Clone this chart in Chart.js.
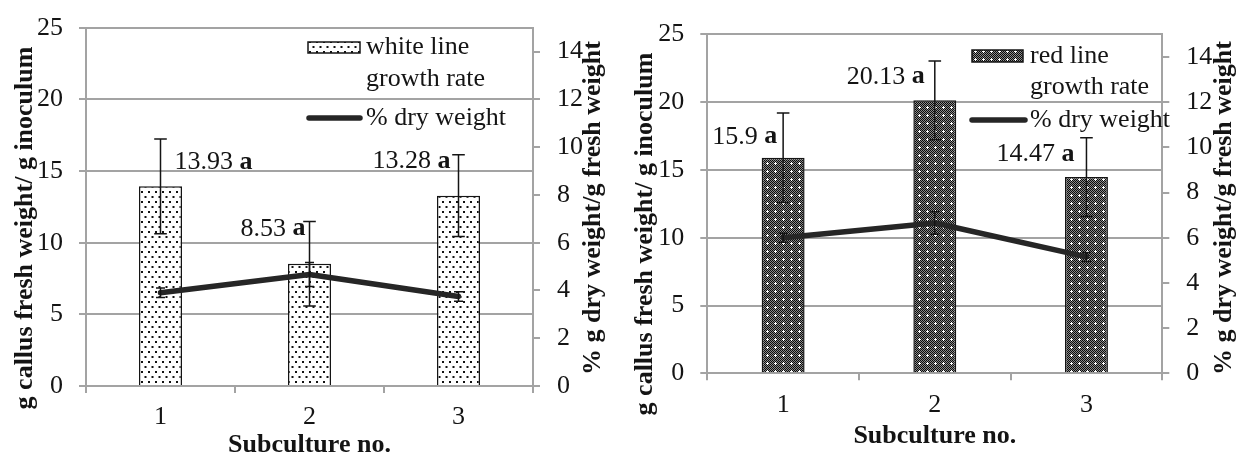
<!DOCTYPE html>
<html>
<head>
<meta charset="utf-8">
<script src="https://cdn.jsdelivr.net/npm/chart.js@4/dist/chart.umd.min.js"></script>
<style>
  html, body { margin: 0; padding: 0; background: #fff; }
  #wrap { position: relative; width: 1238px; height: 457px; overflow: hidden; }
  canvas { position: absolute; top: 0; }
  #cWhite { left: 0; }
  #cRed { left: 620px; }
</style>
</head>
<body>
<div id="wrap">
  <canvas id="cWhite" width="620" height="457"></canvas>
  <canvas id="cRed" width="618" height="457"></canvas>
</div>
<script>
// ---- data -------------------------------------------------------------
const subcultures = ['1', '2', '3'];
const growthTicks = [0, 5, 10, 15, 20, 25];
const dryTicks = [0, 2, 4, 6, 8, 10, 12, 14];
const dryAxisMax = 15;

const whiteGrowth = [13.93, 8.53, 13.28];
const whiteGrowthSd = [3.3, 2.95, 2.85];
const whiteDry = [3.9, 4.67, 3.75];
const whiteDrySd = [0.2, 0.5, 0.2];
const whiteLetters = ['a', 'a', 'a'];

const redGrowth = [15.9, 20.13, 14.47];
const redGrowthSd = [3.3, 2.9, 2.9];
const redDry = [6.0, 6.65, 5.15];
const redDrySd = [0.2, 0.5, 0.2];
const redLetters = ['a', 'a', 'a'];

const xTitle = 'Subculture no.';
const growthTitle = 'g callus fresh weight/ g inoculum';
const dryTitle = '% g dry weight/g fresh weight';
const dryLegend = '% dry weight';

// ---- style ------------------------------------------------------------
const serif = '"Liberation Serif", "Times New Roman", serif';
const ink = '#141414';
const lineInk = '#262626';
const gridGray = '#a3a3a3';
const FS = 26;

function dotPattern() {
  const c = document.createElement('canvas');
  c.width = 14; c.height = 10;
  const g = c.getContext('2d');
  g.fillStyle = '#fff'; g.fillRect(0, 0, 14, 10);
  g.fillStyle = '#111';
  [[1, 1], [8, 1], [4.5, 6], [11.5, 6]].forEach(([x, y]) => g.fillRect(x, y, 2, 2));
  return g.createPattern(c, 'repeat');
}

function checkPattern() {
  const c = document.createElement('canvas');
  c.width = 8; c.height = 8;
  const g = c.getContext('2d');
  for (let y = 0; y < 8; y++) {
    for (let x = 0; x < 8; x++) {
      g.fillStyle = (x + y) % 2 ? '#8a8a8a' : '#0a0a0a';
      g.fillRect(x, y, 1, 1);
    }
  }
  g.fillStyle = '#fff';
  g.fillRect(2, 3, 3, 1);
  g.fillRect(3, 2, 1, 3);
  return g.createPattern(c, 'repeat');
}

const panels = [
  {
    canvas: 'cWhite', width: 620,
    growth: whiteGrowth, growthSd: whiteGrowthSd,
    dry: whiteDry, drySd: whiteDrySd, letters: whiteLetters,
    legendName: ['white line', 'growth rate'], fill: dotPattern(),
    area: { left: 86, right: 533, top: 27.7, bottom: 386 },
    barPct: 0.289,
    valueLabels: [
      { dx: 14, dy: -24, align: 'left' },
      { dx: -4, dy: -35, align: 'right' },
      { dx: -8, dy: -34, align: 'right' }
    ],
    legend: { boxX: 308, boxY: 42, boxW: 52, boxH: 11, textX: 366, lineY: 118, lineX0: 309, lineX1: 360 },
    titles: { leftX: 25, leftY: 228, rightX: 593, rightY: 208, bottomY: 445 }
  },
  {
    canvas: 'cRed', width: 618,
    growth: redGrowth, growthSd: redGrowthSd,
    dry: redDry, drySd: redDrySd, letters: redLetters,
    legendName: ['red line', 'growth rate'], fill: checkPattern(),
    area: { left: 87.3, right: 542.3, top: 34.3, bottom: 373.3 },
    barPct: 0.283,
    valueLabels: [
      { dx: -6, dy: -21, align: 'right' },
      { dx: -10, dy: -23.6, align: 'right' },
      { dx: -12, dy: -23, align: 'right' }
    ],
    legend: { boxX: 352, boxY: 50, boxW: 51, boxH: 12, textX: 410, lineY: 120, lineX0: 352, lineX1: 405 },
    titles: { leftX: 25, leftY: 234, rightX: 604, rightY: 208, bottomY: 436.5 }
  }
];

// ---- drawing helpers --------------------------------------------------
function errorBar(ctx, x, yHi, yLo, half) {
  ctx.beginPath();
  ctx.moveTo(x, yHi); ctx.lineTo(x, yLo);
  ctx.moveTo(x - half, yHi); ctx.lineTo(x + half, yHi);
  ctx.moveTo(x - half, yLo); ctx.lineTo(x + half, yLo);
  ctx.stroke();
}

function valueLabel(ctx, value, letter, x, y, align) {
  const num = String(value) + ' ';
  ctx.font = `${FS}px ${serif}`;
  const w1 = ctx.measureText(num).width;
  ctx.font = `bold ${FS}px ${serif}`;
  const w2 = ctx.measureText(letter).width;
  const sx = align === 'left' ? x : x - w1 - w2;
  ctx.textAlign = 'left';
  ctx.textBaseline = 'middle';
  ctx.font = `${FS}px ${serif}`;
  ctx.fillText(num, sx, y);
  ctx.font = `bold ${FS}px ${serif}`;
  ctx.fillText(letter, sx + w1, y);
}

function rotatedText(ctx, text, x, y) {
  ctx.save();
  ctx.translate(x, y);
  ctx.rotate(-Math.PI / 2);
  ctx.textAlign = 'center';
  ctx.textBaseline = 'middle';
  ctx.fillText(text, 0, 0);
  ctx.restore();
}

function extrasPlugin(p) {
  return {
    id: 'panelExtras',
    afterDatasetsDraw(chart) {
      const ctx = chart.ctx;
      const { x, y, y1 } = chart.scales;
      ctx.save();
      ctx.strokeStyle = ink;
      ctx.lineWidth = 1.5;
      p.growth.forEach((v, i) => {
        const px = x.getPixelForValue(i);
        errorBar(ctx, px, y.getPixelForValue(v + p.growthSd[i]), y.getPixelForValue(v - p.growthSd[i]), 6.3);
      });
      p.dry.forEach((v, i) => {
        const px = x.getPixelForValue(i);
        errorBar(ctx, px, y1.getPixelForValue(v + p.drySd[i]), y1.getPixelForValue(v - p.drySd[i]), 4.5);
      });

      // value labels with significance letters
      ctx.fillStyle = ink;
      p.growth.forEach((v, i) => {
        const s = p.valueLabels[i];
        valueLabel(ctx, v, p.letters[i], x.getPixelForValue(i) + s.dx, y.getPixelForValue(v) + s.dy, s.align);
      });

      // legend
      const L = p.legend;
      ctx.fillStyle = p.fill;
      ctx.fillRect(L.boxX, L.boxY, L.boxW, L.boxH);
      ctx.strokeStyle = ink;
      ctx.lineWidth = 1.5;
      ctx.strokeRect(L.boxX, L.boxY, L.boxW, L.boxH);
      ctx.fillStyle = ink;
      ctx.font = `${FS}px ${serif}`;
      ctx.textAlign = 'left';
      ctx.textBaseline = 'middle';
      const lh = FS * 1.2;
      const firstY = L.boxY + L.boxH / 2;
      p.legendName.forEach((t, k) => ctx.fillText(t, L.textX, firstY + k * lh));
      ctx.strokeStyle = lineInk;
      ctx.lineWidth = 5.5;
      ctx.lineCap = 'round';
      ctx.beginPath();
      ctx.moveTo(L.lineX0, L.lineY); ctx.lineTo(L.lineX1, L.lineY);
      ctx.stroke();
      ctx.fillText(dryLegend, L.textX, L.lineY);

      // axis titles
      const T = p.titles;
      ctx.font = `bold ${FS}px ${serif}`;
      ctx.fillStyle = ink;
      rotatedText(ctx, growthTitle, T.leftX, T.leftY);
      rotatedText(ctx, dryTitle, T.rightX, T.rightY);
      ctx.textAlign = 'center';
      ctx.textBaseline = 'middle';
      ctx.fillText(xTitle, (chart.chartArea.left + chart.chartArea.right) / 2, T.bottomY);
      ctx.restore();
    }
  };
}

function zeroPadding(s) {
  s.paddingTop = 0; s.paddingBottom = 0; s.paddingLeft = 0; s.paddingRight = 0;
}

// ---- charts -----------------------------------------------------------
panels.forEach(p => {
  const tickFont = { family: serif, size: FS };
  new Chart(document.getElementById(p.canvas), {
    type: 'bar',
    data: {
      labels: subcultures,
      datasets: [
        {
          type: 'line',
          label: dryLegend,
          data: p.dry,
          yAxisID: 'y1',
          borderColor: lineInk,
          borderWidth: 5.5,
          borderCapStyle: 'round',
          borderJoinStyle: 'round',
          pointRadius: 0,
          tension: 0,
          order: 0
        },
        {
          type: 'bar',
          label: p.legendName.join(' '),
          data: p.growth,
          yAxisID: 'y',
          backgroundColor: p.fill,
          borderColor: ink,
          borderWidth: 1.5,
          categoryPercentage: 1,
          barPercentage: p.barPct,
          order: 1
        }
      ]
    },
    options: {
      responsive: false,
      animation: false,
      devicePixelRatio: 1,
      layout: { padding: { left: 0, right: 0, top: p.area.top, bottom: 0 } },
      plugins: { legend: { display: false }, tooltip: { enabled: false } },
      scales: {
        x: {
          type: 'category',
          offset: true,
          grid: { offset: true, drawOnChartArea: false, drawTicks: true, tickLength: 7, color: gridGray, lineWidth: 2 },
          border: { display: true, color: gridGray, width: 2 },
          ticks: { font: tickFont, color: ink, padding: 9, maxRotation: 0 },
          afterFit(s) { s.height = 457 - p.area.bottom; zeroPadding(s); }
        },
        y: {
          position: 'left',
          min: growthTicks[0],
          max: growthTicks[growthTicks.length - 1],
          ticks: { stepSize: growthTicks[1] - growthTicks[0], font: tickFont, color: ink, padding: 16 },
          grid: { color: gridGray, lineWidth: 2, drawTicks: true, tickLength: 7 },
          border: { display: true, color: gridGray, width: 2 },
          afterFit(s) { s.width = p.area.left; zeroPadding(s); }
        },
        y1: {
          position: 'right',
          min: dryTicks[0],
          max: dryAxisMax,
          ticks: { stepSize: dryTicks[1] - dryTicks[0], font: tickFont, color: ink, padding: 17 },
          afterBuildTicks(s) { s.ticks = dryTicks.map(v => ({ value: v })); },
          grid: { drawOnChartArea: false, drawTicks: true, tickLength: 7, color: gridGray, lineWidth: 2 },
          border: { display: true, color: gridGray, width: 2 },
          afterFit(s) { s.width = p.width - p.area.right; zeroPadding(s); }
        }
      }
    },
    plugins: [extrasPlugin(p)]
  });
});
</script>
</body>
</html>
